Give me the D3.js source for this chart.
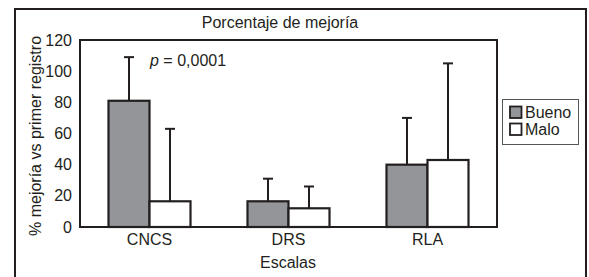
<!DOCTYPE html>
<html><head><meta charset="utf-8">
<script src="https://cdn.jsdelivr.net/npm/d3@7"></script>
<style>body{margin:0;background:#fff}svg{display:block;font-family:"Liberation Sans",Arial,sans-serif}</style>
</head><body><svg id="c" width="589" height="277"></svg>
<script>
const categories = ["CNCS", "DRS", "RLA"];
const seriesNames = ["Bueno", "Malo"];
const bueno = [81, 16.5, 40];
const malo = [16.5, 12, 43];
const buenoErr = [109, 31, 70];
const maloErr = [63, 26, 105];
const yTicks = [0, 20, 40, 60, 80, 100, 120];
const colors = ["#939598", "#ffffff"];
const ink = "#231f20";
const FS = 16;

const svg = d3.select("#c");
const L = 80, R = 497, T = 40, B = 227;

// outer frame (bottom clipped)
svg.append("path").attr("d", `M15,280 V9 H586 V280`).attr("fill", "none").attr("stroke", ink).attr("stroke-width", 2);

const x = d3.scaleBand().domain(categories).range([L, R]).paddingInner(0.41).paddingOuter(0.205);
const x1 = d3.scaleBand().domain(seriesNames).range([0, x.bandwidth()]);
const y = d3.scaleLinear().domain([0, 120]).range([B, T]);

// plot frame
svg.append("rect").attr("x", L).attr("y", T).attr("width", R - L).attr("height", B - T)
  .attr("fill", "none").attr("stroke", ink).attr("stroke-width", 2);

const data = [bueno, malo];
const errs = [buenoErr, maloErr];
seriesNames.forEach((s, si) => {
  const g = svg.append("g");
  categories.forEach((c, ci) => {
    const bx = x(c) + x1(s), bw = x1.bandwidth();
    const cx = bx + bw / 2;
    g.append("line").attr("x1", cx).attr("x2", cx).attr("y1", y(data[si][ci])).attr("y2", y(errs[si][ci]))
      .attr("stroke", ink).attr("stroke-width", 2);
    g.append("line").attr("x1", cx - 5).attr("x2", cx + 5).attr("y1", y(errs[si][ci])).attr("y2", y(errs[si][ci]))
      .attr("stroke", ink).attr("stroke-width", 2);
    g.append("rect").attr("x", bx).attr("y", y(data[si][ci])).attr("width", bw).attr("height", y(0) - y(data[si][ci]))
      .attr("fill", colors[si]).attr("stroke", ink).attr("stroke-width", 2.2);
  });
});

// y axis labels
const ya = svg.append("g").attr("transform", `translate(${L},0)`)
  .call(d3.axisLeft(y).tickValues(yTicks).tickSize(0).tickPadding(8));
ya.select(".domain").remove();
ya.selectAll("text").attr("font-size", FS).attr("fill", ink).attr("font-family", "Liberation Sans, Arial, sans-serif");

const xa = svg.append("g").attr("transform", `translate(0,${B})`)
  .call(d3.axisBottom(x).tickSize(0).tickPadding(7));
xa.select(".domain").remove();
xa.selectAll("text").attr("font-size", FS).attr("fill", ink).attr("font-family", "Liberation Sans, Arial, sans-serif");

svg.append("text").attr("x", 288).attr("y", 268).attr("text-anchor", "middle").attr("font-size", FS).attr("fill", ink).text("Escalas");
svg.append("text").attr("x", 280).attr("y", 28).attr("text-anchor", "middle").attr("font-size", FS).attr("fill", ink).text("Porcentaje de mejoría");

const yl = svg.append("text").attr("transform", "translate(41,136) rotate(-90)").attr("text-anchor", "middle")
  .attr("font-size", FS).attr("fill", ink);
yl.append("tspan").text("% mejoría ");
yl.append("tspan").text("vs");
yl.append("tspan").text(" primer registro");

const pt = svg.append("text").attr("x", 150).attr("y", 66).attr("font-size", FS).attr("fill", ink);
pt.append("tspan").attr("font-style", "italic").text("p");
pt.append("tspan").text(" = 0,0001");

// legend
const lg = svg.append("g");
lg.append("rect").attr("x", 502.5).attr("y", 99.5).attr("width", 76).attr("height", 45)
  .attr("fill", "#fff").attr("stroke", "#555").attr("stroke-width", 1);
seriesNames.forEach((s, i) => {
  lg.append("rect").attr("x", 510).attr("y", 106.5 + i * 17).attr("width", 11.5).attr("height", 11.5)
    .attr("fill", colors[i]).attr("stroke", ink).attr("stroke-width", 1.8);
  lg.append("text").attr("x", 525).attr("y", 118 + i * 17).attr("font-size", FS).attr("fill", ink).text(s);
});
</script></body></html>
